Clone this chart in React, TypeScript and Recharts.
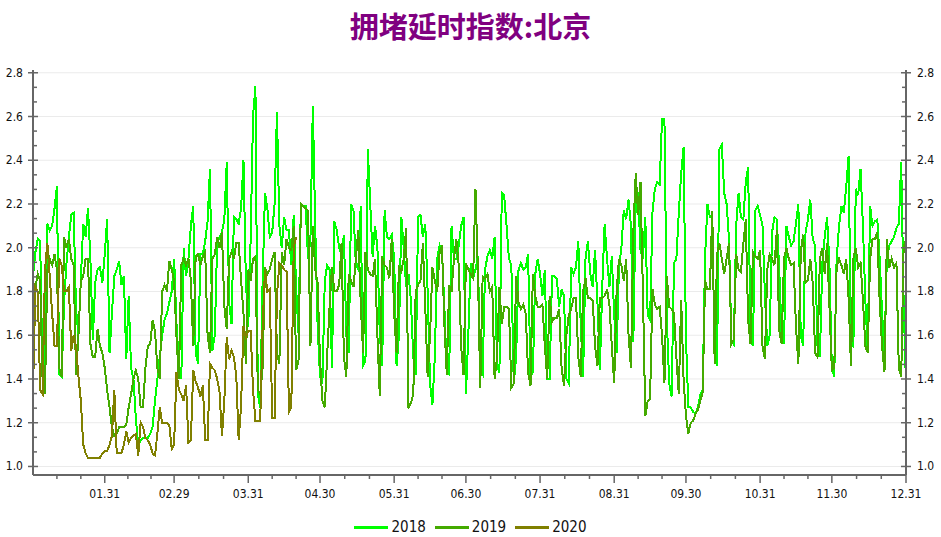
import React from 'react';
import { LineChart, Line, XAxis, YAxis, CartesianGrid } from 'recharts';

// Daily congestion delay index, Beijing (index 0 = Jan 1, leap-year axis)
const series2018: number[] = [
  1.87, 1.98, 2.04, 2.03, 1.40, 1.42, 2.11, 2.08, 2.10, 2.18,
  2.28, 1.42, 1.41, 1.75, 1.93, 2.05, 2.15, 2.16, 1.72, 1.60,
  1.85, 2.11, 2.05, 2.18, 1.95, 1.58, 1.84, 1.90, 1.91, 1.84,
  1.97, 2.13, 1.52, 1.70, 1.87, 1.90, 1.94, 1.83, 1.87, 1.49,
  1.78, 1.45, 1.40, 1.22, 1.10, 1.12, 1.13, 1.13, 1.13, 1.15,
  1.18, 1.30, 1.40, 1.50, 1.60, 1.67, 1.70, 1.75, 1.80, 1.95,
  1.65, 1.47, 1.40, 2.00, 1.87, 1.95, 2.10, 2.19, 1.52, 1.47,
  1.97, 1.97, 2.03, 2.12, 2.36, 1.53, 1.60, 2.02, 2.05, 2.07,
  2.13, 2.39, 1.75, 1.65, 2.14, 2.13, 2.11, 2.18, 2.40, 1.85,
  1.64, 2.04, 2.60, 2.74, 1.33, 1.27, 1.85, 2.25, 2.18, 2.05,
  2.07, 2.20, 2.62, 2.10, 2.00, 2.14, 2.08, 2.08, 1.92, 2.15,
  1.82, 1.61, 2.20, 2.19, 2.19, 1.95, 2.04, 2.65, 2.10, 1.64,
  1.41, 1.38, 1.85, 1.92, 1.90, 1.45, 2.12, 2.08, 2.00, 1.97,
  2.06, 1.60, 1.52, 2.20, 2.17, 1.92, 1.90, 2.19, 1.46, 1.48,
  2.45, 2.20, 1.96, 2.10, 2.00, 1.60, 1.46, 2.17, 2.05, 2.04,
  2.06, 1.95, 1.46, 1.60, 2.14, 2.00, 1.82, 1.88, 1.76, 1.50,
  1.42, 2.14, 2.15, 2.05, 2.11, 1.80, 1.38, 1.28, 1.50, 1.95,
  2.01, 1.98, 1.73, 1.43, 1.42, 2.10, 1.95, 1.95, 2.01, 2.10,
  2.14, 1.33, 1.60, 1.93, 1.86, 1.90, 1.96, 1.44, 1.42, 1.90,
  1.96, 1.99, 1.95, 2.05, 1.46, 1.43, 2.25, 2.24, 2.10, 1.95,
  1.92, 1.38, 1.50, 1.90, 1.93, 1.90, 1.91, 1.97, 1.41, 1.43,
  1.88, 1.95, 1.88, 1.78, 1.90, 1.40, 1.40, 1.87, 1.87, 1.86,
  1.73, 1.81, 1.78, 1.40, 1.38, 1.91, 1.88, 1.91, 2.03, 1.65,
  1.41, 1.95, 2.03, 1.88, 1.82, 1.99, 1.75, 1.44, 1.82, 2.11,
  1.95, 1.82, 1.96, 1.69, 1.52, 1.91, 2.00, 2.17, 2.13, 2.22,
  2.10, 1.57, 2.22, 2.24, 1.99, 1.95, 2.14, 1.69, 1.67, 2.16,
  2.27, 2.30, 2.29, 2.59, 2.59, 1.67, 1.38, 1.32, 1.93, 1.95,
  2.16, 2.34, 2.46, 1.59, 1.27, 1.27, 1.25, 1.24, 1.27, 1.33,
  1.35, 1.96, 2.20, 2.14, 2.14, 1.50, 1.46, 2.45, 2.47, 2.25,
  2.20, 2.04, 1.58, 1.56, 2.10, 2.25, 2.14, 2.13, 2.30, 2.37,
  1.59, 1.55, 2.17, 2.19, 2.15, 2.10, 1.79, 1.55, 1.60, 2.07,
  2.14, 2.13, 1.90, 1.60, 1.56, 2.10, 2.05, 2.01, 2.03, 2.11,
  2.20, 1.60, 1.55, 2.07, 2.13, 2.22, 2.04, 2.01, 1.55, 1.50,
  1.93, 2.05, 2.14, 1.92, 1.45, 1.41, 1.95, 2.10, 2.19, 2.16,
  2.28, 2.42, 1.56, 1.55, 2.27, 2.24, 2.36, 2.10, 1.76, 1.53,
  2.19, 2.10, 2.12, 2.13, 1.95, 1.70, 1.53, 1.95, 2.01, 2.03,
  2.05, 2.09, 2.11, 2.39, 1.76, 1.37,
];

const series2019: number[] = [
  1.35, 1.82, 1.88, 1.85, 1.40, 1.33, 1.90, 1.95, 1.92, 1.97,
  1.90, 1.45, 1.41, 2.05, 2.00, 2.04, 1.95, 1.92, 1.42, 1.60,
  1.85, 1.87, 1.95, 1.95, 1.56, 1.50, 1.50, 1.63, 1.55, 1.52,
  1.45, 1.35, 1.27, 1.18, 1.14, 1.15, 1.18, 1.18, 1.18, 1.19,
  1.27, 1.33, 1.40, 1.44, 1.40, 1.27, 1.27, 1.45, 1.55, 1.56,
  1.67, 1.62, 1.45, 1.40, 1.80, 1.83, 1.80, 1.94, 1.90, 1.85,
  1.59, 1.40, 1.92, 1.95, 1.92, 1.95, 1.85, 1.55, 1.96, 1.97,
  1.92, 1.96, 1.98, 1.60, 1.52, 1.95, 1.97, 2.05, 2.00, 2.07,
  1.73, 1.63, 1.95, 1.98, 1.95, 2.02, 2.02, 1.85, 1.70, 1.47,
  1.90, 1.85, 1.95, 1.96, 1.35, 1.33, 1.45, 1.91, 1.88, 1.90,
  1.95, 1.98, 1.52, 1.47, 1.98, 1.92, 2.04, 2.00, 1.99, 2.10,
  1.44, 1.48, 2.20, 2.19, 2.18, 2.17, 1.55, 2.10, 1.90, 1.84,
  1.49, 1.30, 1.27, 1.51, 1.73, 1.91, 1.80, 1.80, 1.83, 2.02,
  1.50, 1.41, 1.88, 1.85, 1.82, 1.95, 2.08, 1.75, 1.52, 1.98,
  1.90, 1.88, 1.87, 1.95, 1.60, 1.32, 1.96, 1.92, 1.91, 1.86,
  2.04, 1.70, 1.52, 1.91, 1.89, 1.95, 2.09, 1.27, 1.29, 1.33,
  1.80, 1.83, 1.85, 2.02, 1.73, 1.41, 1.60, 1.91, 1.85, 1.80,
  1.98, 2.01, 1.65, 1.42, 1.83, 1.80, 1.95, 2.04, 1.92, 1.55,
  1.42, 1.93, 1.90, 1.88, 1.86, 2.27, 1.90, 1.36, 1.87, 1.86,
  1.88, 1.80, 1.82, 1.40, 1.50, 1.82, 1.65, 1.73, 1.73, 1.72,
  1.36, 1.38, 1.87, 1.75, 1.72, 1.74, 1.70, 1.43, 1.37, 1.88,
  1.78, 1.73, 1.73, 1.74, 1.55, 1.40, 1.78, 1.66, 1.68, 1.68,
  1.72, 1.45, 1.37, 1.60, 1.69, 1.72, 1.77, 1.77, 1.50, 1.41,
  1.80, 1.86, 1.77, 1.77, 1.76, 1.55, 1.46, 1.77, 1.77, 1.78,
  1.81, 1.74, 1.55, 1.38, 1.80, 1.95, 1.92, 1.85, 1.95, 1.60,
  1.45, 2.07, 2.34, 2.15, 2.30, 1.80, 1.23, 1.30, 1.31, 1.81,
  1.74, 1.72, 1.73, 1.60, 1.38, 1.87, 1.73, 1.72, 1.70, 1.50,
  1.33, 1.76, 1.40, 1.23, 1.15, 1.20, 1.21, 1.24, 1.26, 1.30,
  1.34, 1.85, 1.81, 1.81, 2.17, 1.47, 1.97, 2.02, 1.95, 1.88,
  1.95, 2.02, 1.56, 1.58, 1.97, 1.90, 1.89, 2.02, 2.13, 1.67,
  1.56, 1.98, 1.96, 1.95, 1.99, 1.55, 1.49, 1.90, 1.97, 1.95,
  1.92, 2.08, 1.62, 1.56, 1.95, 2.00, 1.95, 1.92, 1.93, 1.64,
  1.47, 1.98, 2.06, 1.84, 1.85, 1.95, 1.84, 1.52, 1.50, 1.95,
  2.00, 1.88, 2.02, 1.73, 1.44, 1.45, 1.91, 1.95, 1.92, 1.88,
  1.95, 1.77, 1.46, 1.95, 2.00, 1.91, 1.93, 1.76, 1.55, 1.52,
  1.95, 2.04, 2.04, 2.07, 1.75, 1.55, 1.43, 2.04, 1.91, 1.95,
  1.91, 1.93, 1.45, 1.41, 2.00, 2.04,
];

const series2020: number[] = [
  1.34, 1.82, 1.80, 1.35, 1.33, 1.90, 2.02, 1.87, 1.70, 1.55,
  1.55, 1.95, 1.92, 1.80, 1.80, 1.82, 1.53, 1.60, 1.55, 1.41,
  1.30, 1.10, 1.06, 1.04, 1.04, 1.04, 1.04, 1.04, 1.04, 1.06,
  1.07, 1.07, 1.10, 1.14, 1.35, 1.06, 1.06, 1.06, 1.10, 1.16,
  1.11, 1.13, 1.14, 1.15, 1.05, 1.20, 1.18, 1.13, 1.12, 1.10,
  1.06, 1.05, 1.15, 1.27, 1.20, 1.20, 1.20, 1.19, 1.08, 1.10,
  1.43, 1.35, 1.33, 1.30, 1.37, 1.11, 1.12, 1.44, 1.39, 1.36,
  1.32, 1.37, 1.12, 1.12, 1.47, 1.45, 1.44, 1.40, 1.34, 1.14,
  1.30, 1.59, 1.49, 1.53, 1.50, 1.41, 1.12, 1.28, 1.64, 1.59,
  1.62, 1.62, 1.35, 1.21, 1.21, 1.21, 1.64, 1.90, 1.80, 1.81,
  1.22, 1.22, 1.78, 1.93, 1.92, 1.90, 1.89, 1.25, 1.27, 2.00,
  2.05,
];

const seriesNames = ['2018', '2019', '2020'];
const seriesColors = ['#00ff00', '#44aa00', '#808000'];

const monthEndDays = [30, 59, 90, 120, 151, 181, 212, 243, 273, 304, 334, 365];
const monthEndLabels = ['01.31', '02.29', '03.31', '04.30', '05.31', '06.30', '07.31', '08.31', '09.30', '10.31', '11.30', '12.31'];
const yMajorTicks = [1.0, 1.2, 1.4, 1.6, 1.8, 2.0, 2.2, 2.4, 2.6, 2.8];

const TITLE = '拥堵延时指数:北京';
const W = 941;
const H = 537;
const Y_MIN = 0.961;
const Y_MAX = 2.8126;
const AXIS = '#666666';
const FONT = "'DejaVu Sans Condensed', 'Liberation Sans Narrow', 'DejaVu Sans', sans-serif";

const data = Array.from({ length: 366 }, (_, d) => ({
  d,
  s2018: d < series2018.length ? series2018[d] : null,
  s2019: d < series2019.length ? series2019[d] : null,
  s2020: d < series2020.length ? series2020[d] : null,
}));

const xTicks: number[] = [];
{
  let prev = 0;
  monthEndDays.forEach((m) => {
    xTicks.push(prev + (m - prev) / 3, prev + (2 * (m - prev)) / 3, m);
    prev = m;
  });
}

const yTicks: number[] = [];
for (let i = 0; i <= 27; i++) yTicks.push(+(1 + (i * 0.2) / 3).toFixed(5));

const isMajorY = (v: number) => Math.abs(v * 5 - Math.round(v * 5)) < 1e-3;

const XTick = (props: any) => {
  const { x, y, payload } = props;
  const idx = monthEndDays.findIndex((m) => Math.abs(m - payload.value) < 1e-6);
  const major = idx >= 0;
  return (
    <g>
      <line x1={x} x2={x} y1={y} y2={y + (major ? 8 : 4)} stroke={AXIS} strokeWidth={1.5} />
      {major && (
        <text x={x} y={y + 23} textAnchor="middle" fontSize={12} fill="#111" fontFamily={FONT}>
          {monthEndLabels[idx]}
        </text>
      )}
    </g>
  );
};

const YTickLeft = (props: any) => {
  const { x, y, payload } = props;
  const major = isMajorY(payload.value);
  return (
    <g>
      {major ? (
        <line x1={x - 5} x2={x + 5} y1={y} y2={y} stroke={AXIS} strokeWidth={1.5} />
      ) : (
        <line x1={x} x2={x + 4} y1={y} y2={y} stroke={AXIS} strokeWidth={1.5} />
      )}
      {major && (
        <text x={x - 10} y={y + 4} textAnchor="end" fontSize={12} fill="#111" fontFamily={FONT}>
          {payload.value.toFixed(1)}
        </text>
      )}
    </g>
  );
};

const YTickRight = (props: any) => {
  const { x, y, payload } = props;
  const major = isMajorY(payload.value);
  return (
    <g>
      {major ? (
        <line x1={x - 5} x2={x + 5} y1={y} y2={y} stroke={AXIS} strokeWidth={1.5} />
      ) : (
        <line x1={x - 4} x2={x} y1={y} y2={y} stroke={AXIS} strokeWidth={1.5} />
      )}
      {major && (
        <text x={x + 11} y={y + 4} textAnchor="start" fontSize={12} fill="#111" fontFamily={FONT}>
          {payload.value.toFixed(1)}
        </text>
      )}
    </g>
  );
};

export default function App() {
  const keys = ['s2018', 's2019', 's2020'];
  return (
    <div style={{ position: 'absolute', left: 0, top: 0, width: W, height: H, background: '#fff' }}>
      <div
        style={{
          position: 'absolute',
          left: 0,
          top: 11,
          width: W,
          textAlign: 'center',
          fontFamily: "'Noto Sans CJK SC', sans-serif",
          fontWeight: 700,
          fontSize: 29,
          lineHeight: '29px',
          color: '#800080',
        }}
      >
        {TITLE}
      </div>
      <LineChart width={W} height={H} data={data} margin={{ top: 70, right: 0, bottom: 0, left: 0 }}>
        <CartesianGrid
          vertical={false}
          stroke="#ebebeb"
          horizontalCoordinatesGenerator={({ offset }: any) =>
            yMajorTicks.map((v) => offset.top + ((Y_MAX - v) / (Y_MAX - Y_MIN)) * offset.height)
          }
        />
        <XAxis
          dataKey="d"
          type="number"
          domain={[0, 365]}
          ticks={xTicks}
          interval={0}
          height={62}
          tickSize={0}
          tickMargin={0}
          tickLine={false}
          tick={<XTick />}
          axisLine={{ stroke: AXIS, strokeWidth: 2 }}
          allowDataOverflow
        />
        <YAxis
          type="number"
          domain={[Y_MIN, Y_MAX]}
          ticks={yTicks}
          interval={0}
          width={33}
          tickSize={0}
          tickMargin={0}
          tickLine={false}
          tick={<YTickLeft />}
          axisLine={{ stroke: AXIS, strokeWidth: 2 }}
          allowDataOverflow
        />
        <YAxis
          yAxisId="right"
          orientation="right"
          type="number"
          domain={[Y_MIN, Y_MAX]}
          ticks={yTicks}
          interval={0}
          width={35}
          tickSize={0}
          tickMargin={0}
          tickLine={false}
          tick={<YTickRight />}
          axisLine={{ stroke: AXIS, strokeWidth: 2 }}
          allowDataOverflow
        />
        {keys.map((k, i) => (
          <Line
            key={k}
            type="linear"
            dataKey={k}
            name={seriesNames[i]}
            stroke={seriesColors[i]}
            strokeWidth={2}
            shapeRendering="crispEdges"
            dot={false}
            activeDot={false}
            connectNulls={false}
            isAnimationActive={false}
          />
        ))}
      </LineChart>
      <div
        style={{
          position: 'absolute',
          left: 0,
          top: 517,
          width: W,
          display: 'flex',
          justifyContent: 'center',
          alignItems: 'center',
          gap: 9,
          fontFamily: FONT,
          fontSize: 15,
          color: '#111',
          lineHeight: '20px',
        }}
      >
        {seriesNames.map((n, i) => (
          <div key={n} style={{ display: 'flex', alignItems: 'center' }}>
            <div style={{ width: 34, height: 3, background: seriesColors[i], marginRight: 3 }} />
            <span>{n}</span>
          </div>
        ))}
      </div>
    </div>
  );
}
